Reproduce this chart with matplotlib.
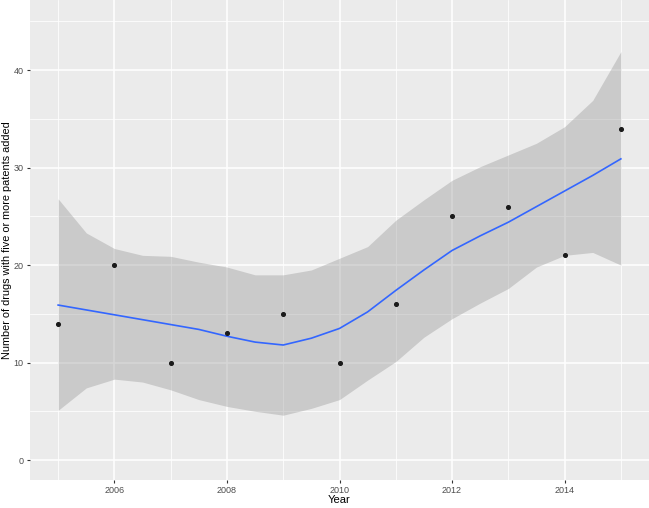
import matplotlib
matplotlib.use('Agg')
import matplotlib.pyplot as plt
import numpy as np

plt.rcParams['font.family'] = ['Liberation Sans', 'DejaVu Sans']

# observed points
years = [2005, 2006, 2007, 2008, 2009, 2010, 2011, 2012, 2013, 2014, 2015]
counts = [14, 20, 10, 13, 15, 10, 16, 25, 26, 21, 34]

# loess smooth and its confidence band
sm_x = [2005, 2005.5, 2006, 2006.5, 2007, 2007.5, 2008, 2008.5, 2009, 2009.5, 2010,
        2010.5, 2011, 2011.5, 2012, 2012.5, 2013, 2013.5, 2014, 2014.5, 2015]
sm_y = [15.9, 15.4, 14.9, 14.4, 13.9, 13.4, 12.7, 12.1, 11.8, 12.5, 13.5,
        15.2, 17.4, 19.5, 21.5, 23.0, 24.4, 26.0, 27.6, 29.2, 30.9]
sm_hi = [26.8, 23.3, 21.7, 21.0, 20.9, 20.3, 19.8, 19.0, 19.0, 19.5, 20.7,
         21.9, 24.6, 26.7, 28.7, 30.1, 31.3, 32.5, 34.2, 36.9, 41.9]
sm_lo = [5.1, 7.4, 8.3, 8.0, 7.2, 6.2, 5.5, 5.0, 4.6, 5.3, 6.2,
         8.2, 10.1, 12.6, 14.5, 16.1, 17.6, 19.8, 21.0, 21.3, 20.0]

fig = plt.figure(figsize=(6.49, 5.08), dpi=100)
ax = fig.add_axes([30 / 649, 28 / 508, 619 / 649, 480 / 508])
ax.set_facecolor('#EBEBEB')

ax.fill_between(sm_x, sm_lo, sm_hi, color='#999999', alpha=0.4, linewidth=0, zorder=2)
ax.plot(sm_x, sm_y, color='#3366FF', linewidth=1.2, zorder=3)
ax.scatter(years, counts, s=7, color='#1A1A1A', zorder=4)

ax.set_xlim(2004.5, 2015.5)
ax.set_ylim(-2.05, 47.2)
ax.set_xticks([2006, 2008, 2010, 2012, 2014])
ax.set_xticks([2005, 2007, 2009, 2011, 2013, 2015], minor=True)
ax.set_yticks([0, 10, 20, 30, 40])
ax.set_yticks([5, 15, 25, 35, 45], minor=True)
ax.grid(which='major', color='white', linewidth=1.1, zorder=1)
ax.grid(which='minor', color='white', linewidth=0.55, zorder=1)
ax.set_axisbelow(True)
for s in ax.spines.values():
    s.set_visible(False)
ax.tick_params(which='major', length=2.5, width=0.8, color='#333333',
               labelsize=6.5, labelcolor='#4D4D4D', pad=2)
ax.tick_params(which='minor', length=0)

ax.set_xlabel('Year', fontsize=8, labelpad=0)
ax.set_ylabel('Number of drugs with five or more patents added', fontsize=7.8)
ax.yaxis.set_label_coords(-18 / 619, 0.5)

fig.savefig('out.png', dpi=100)
